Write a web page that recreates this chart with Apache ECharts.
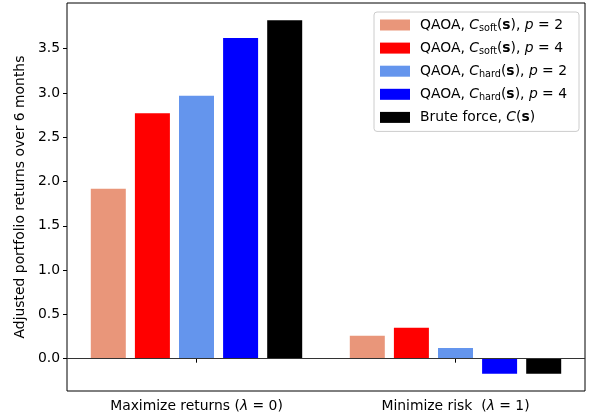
<!DOCTYPE html>
<html>
<head>
<meta charset="utf-8">
<script src="https://cdn.jsdelivr.net/npm/echarts@6/dist/echarts.min.js"></script>
<style>
  html, body { margin: 0; padding: 0; background: #fff; }
  #chart { width: 590px; height: 419px; }
</style>
</head>
<body>
<div id="chart"></div>
<script>
// Objectives compared on the x axis
const categories = ['Maximize returns', 'Minimize risk'];
const categoryLabels = [
  '{n|Maximize returns (}{i|λ}{n| = 0)}',
  '{n|Minimize risk  (}{i|λ}{n| = 1)}'
];

// Adjusted portfolio returns over 6 months, one value per objective
const qaoaSoftP2 = [1.92, 0.26];
const qaoaSoftP4 = [2.77, 0.35];
const qaoaHardP2 = [2.97, 0.12];
const qaoaHardP4 = [3.62, -0.17];
const bruteForce = [3.82, -0.17];

// Y axis ticks
const yTicks = [0, 0.5, 1.0, 1.5, 2.0, 2.5, 3.0, 3.5];

const seriesDefs = [
  { name: 'QAOA, C_soft(s), p = 2', data: qaoaSoftP2, color: '#E9967A',
    legend: '{n|QAOA, }{i|C}{sub|soft}{n|(}{b|s}{n|), }{i|p}{n| = 2}' },
  { name: 'QAOA, C_soft(s), p = 4', data: qaoaSoftP4, color: '#FF0000',
    legend: '{n|QAOA, }{i|C}{sub|soft}{n|(}{b|s}{n|), }{i|p}{n| = 4}' },
  { name: 'QAOA, C_hard(s), p = 2', data: qaoaHardP2, color: '#6495ED',
    legend: '{n|QAOA, }{i|C}{sub|hard}{n|(}{b|s}{n|), }{i|p}{n| = 2}' },
  { name: 'QAOA, C_hard(s), p = 4', data: qaoaHardP4, color: '#0000FF',
    legend: '{n|QAOA, }{i|C}{sub|hard}{n|(}{b|s}{n|), }{i|p}{n| = 4}' },
  { name: 'Brute force, C(s)', data: bruteForce, color: '#000000',
    legend: '{n|Brute force, }{i|C}{n|(}{b|s}{n|)}' }
];

const FONT = 'DejaVu Sans';
const FS = 13.9;
const richText = {
  n: { fontFamily: FONT, fontSize: FS, color: '#000', lineHeight: 17 },
  i: { fontFamily: FONT, fontSize: FS, fontStyle: 'italic', color: '#000', lineHeight: 17 },
  b: { fontFamily: FONT, fontSize: FS, fontWeight: 'bold', color: '#000', lineHeight: 17 },
  sub: { fontFamily: FONT, fontSize: 9.7, color: '#000', lineHeight: 10, verticalAlign: 'bottom' }
};

const legendText = {};
seriesDefs.forEach(s => { legendText[s.name] = s.legend; });

const chart = echarts.init(document.getElementById('chart'), null, { renderer: 'canvas' });

chart.setOption({
  animation: false,
  backgroundColor: '#fff',
  textStyle: { fontFamily: FONT },
  grid: {
    left: 67, right: 5, top: 3, bottom: 28,
    show: true, borderColor: '#000', borderWidth: 1, backgroundColor: 'transparent'
  },
  legend: {
    orient: 'vertical',
    left: 374, top: 12,
    padding: [6, 12, 7, 6],
    itemGap: 7.6,
    itemWidth: 30, itemHeight: 11,
    icon: 'rect',
    backgroundColor: 'rgba(255,255,255,0.8)',
    borderColor: '#cccccc', borderWidth: 1, borderRadius: 3,
    data: seriesDefs.map(s => s.name),
    formatter: name => legendText[name],
    textStyle: { padding: [0, 0, 0, 5], rich: richText }
  },
  xAxis: {
    type: 'category',
    data: categories,
    axisLine: { show: false },
    axisTick: { show: true, alignWithLabel: true, length: 4, lineStyle: { color: '#000' } },
    axisLabel: {
      interval: 0,
      margin: 7,
      formatter: (v, idx) => categoryLabels[idx],
      rich: richText
    },
    splitLine: { show: false }
  },
  yAxis: {
    type: 'value',
    min: -0.365, max: 4.016,
    name: 'Adjusted portfolio returns over 6 months',
    nameLocation: 'middle',
    nameGap: 40,
    nameTextStyle: { fontFamily: FONT, fontSize: FS, color: '#000' },
    axisLine: { show: false },
    axisTick: { show: true, length: 4, customValues: yTicks, lineStyle: { color: '#000' } },
    axisLabel: {
      customValues: yTicks,
      margin: 7,
      fontFamily: FONT, fontSize: FS, color: '#000',
      formatter: v => v.toFixed(1)
    },
    splitLine: { show: false }
  },
  series: seriesDefs.map((s, k) => {
    const item = {
      name: s.name,
      type: 'bar',
      data: s.data,
      barWidth: 35,
      barGap: '26%',
      itemStyle: { color: s.color },
      emphasis: { disabled: true }
    };
    if (k === 0) {
      item.markLine = {
        silent: true,
        symbol: 'none',
        label: { show: false },
        lineStyle: { color: '#333', width: 1, type: 'solid' },
        data: [{ yAxis: 0 }]
      };
    }
    return item;
  })
});
</script>
</body>
</html>
